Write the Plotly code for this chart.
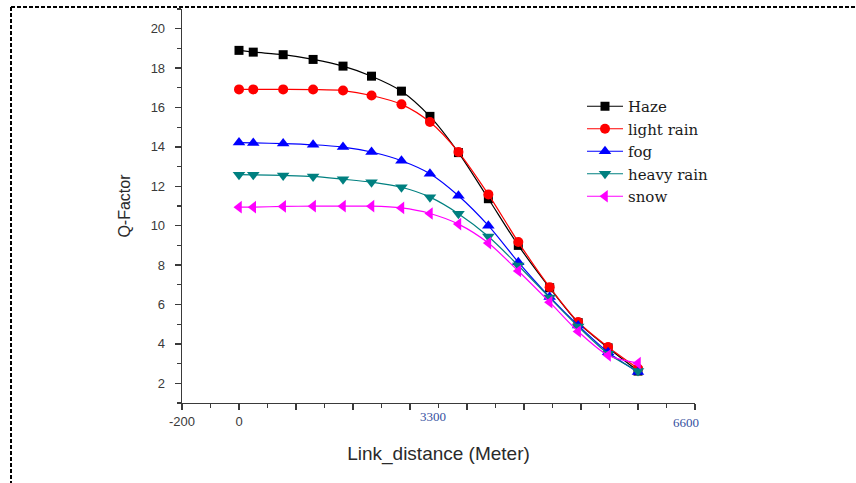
import plotly.graph_objects as go

# ---------------- data ----------------
link_distance = [0, 50, 155, 260, 365, 465, 570, 670, 770, 875, 980, 1090, 1190, 1295, 1400]
haze       = [18.90, 18.81, 18.68, 18.44, 18.10, 17.59, 16.83, 15.55, 13.71, 11.37, 9.00, 6.85, 5.08, 3.80, 2.62]
light_rain = [16.92, 16.92, 16.92, 16.91, 16.86, 16.61, 16.16, 15.26, 13.74, 11.59, 9.17, 6.88, 5.11, 3.84, 2.75]
fog        = [14.22, 14.20, 14.17, 14.11, 13.99, 13.74, 13.30, 12.64, 11.52, 10.00, 8.15, 6.38, 4.94, 3.58, 2.57]
heavy_rain = [12.59, 12.58, 12.55, 12.50, 12.36, 12.21, 11.95, 11.45, 10.61, 9.45, 7.98, 6.35, 4.88, 3.50, 2.62]
snow       = [10.94, 10.94, 10.98, 10.99, 10.99, 10.99, 10.90, 10.62, 10.08, 9.12, 7.70, 6.12, 4.63, 3.42, 3.02]

series_names = ["Haze", "light rain", "fog", "heavy rain", "snow"]
x_tick_values = [-200, 0, 200, 400, 600, 800, 1000, 1200, 1400, 1600]
x_tick_labels = ["-200", "0", "", "", "", "", "", "", "", ""]
y_tick_values = [2, 4, 6, 8, 10, 12, 14, 16, 18, 20]
extra_x_labels = ["3300", "6600"]

# ---------------- styling ----------------
W, H = 856, 483
L, R, T, B = 182, 161, 9, 80
X_RANGE = [-200, 1600]
Y_RANGE = [1, 21]
PW, PH = W - L - R, H - T - B

def px_to_paper_x(px):
    return (px - L) / PW

def px_to_paper_y(py):
    return (H - B - py) / PH

def px_to_data_x(px):
    return X_RANGE[0] + (px - L) / PW * (X_RANGE[1] - X_RANGE[0])

styles = [
    dict(color="#000000", symbol="square", size=9),
    dict(color="#ff0000", symbol="circle", size=10),
    dict(color="#0000ff", symbol="triangle-up", size=11),
    dict(color="#008080", symbol="triangle-down", size=11),
    dict(color="#ff00ff", symbol="triangle-left", size=11),
]
all_series = [haze, light_rain, fog, heavy_rain, snow]

fig = go.Figure()
for name, ys, st in zip(series_names, all_series, styles):
    fig.add_trace(go.Scatter(
        x=link_distance, y=ys, name=name, mode="lines+markers",
        line=dict(color=st["color"], width=1.2, shape="spline", smoothing=0.8),
        marker=dict(color=st["color"], symbol=st["symbol"], size=st["size"], line=dict(width=0)),
    ))

axis_color = "#3a3a3a"
tick_font = dict(family="Liberation Sans, Arial", size=13, color="#3a3a3a")

fig.update_layout(
    width=W, height=H,
    margin=dict(l=L, r=R, t=T, b=B, autoexpand=False),
    paper_bgcolor="white", plot_bgcolor="white",
    showlegend=True,
    hovermode=False,
    legend=dict(
        x=px_to_paper_x(582), y=px_to_paper_y(90), xanchor="left", yanchor="top",
        bgcolor="rgba(0,0,0,0)", borderwidth=0,
        font=dict(family="DejaVu Serif", size=15, color="#1a1a1a"),
        itemwidth=36, tracegroupgap=0,
    ),
    xaxis=dict(
        range=X_RANGE, showgrid=False, zeroline=False,
        showline=True, linecolor=axis_color, linewidth=1.3,
        ticks="outside", ticklen=6, tickwidth=1.3, tickcolor=axis_color,
        tickmode="array", tickvals=x_tick_values, ticktext=x_tick_labels,
        tickfont=tick_font,
        minor=dict(dtick=100, tick0=0, ticks="outside", ticklen=3.5, tickwidth=1.3, tickcolor=axis_color),
        title=dict(text="Link_distance (Meter)", standoff=18,
                   font=dict(family="Liberation Sans, Arial", size=19, color="#2a2a2a")),
    ),
    yaxis=dict(
        range=Y_RANGE, showgrid=False, zeroline=False,
        showline=True, linecolor=axis_color, linewidth=1.3,
        ticks="outside", ticklen=6, tickwidth=1.3, tickcolor=axis_color,
        tickmode="array", tickvals=y_tick_values, tickfont=tick_font,
        ticklabelstandoff=7,
        minor=dict(dtick=1, tick0=1, ticks="outside", ticklen=3.5, tickwidth=1.3, tickcolor=axis_color),
        title=dict(text="Q-Factor", standoff=16,
                   font=dict(family="Liberation Sans, Arial", size=16, color="#2a2a2a")),
    ),
)

# hand-placed distance labels (serif, bluish) as in the reference
extra_label_pos = [(433, 416), (686, 422)]
for txt, (px, py) in zip(extra_x_labels, extra_label_pos):
    fig.add_annotation(
        x=px_to_data_x(px), xref="x", y=px_to_paper_y(py), yref="paper",
        text=txt, showarrow=False, xanchor="center", yanchor="middle",
        font=dict(family="Liberation Serif, Times New Roman", size=13, color="#3550a0"),
    )

# dashed page frame (top and left)
fig.add_shape(type="line", xref="paper", yref="paper",
              x0=px_to_paper_x(11), x1=px_to_paper_x(W), y0=px_to_paper_y(7), y1=px_to_paper_y(7),
              line=dict(color="black", width=2, dash="4px,2px"))
fig.add_shape(type="line", xref="paper", yref="paper",
              x0=px_to_paper_x(11), x1=px_to_paper_x(11), y0=px_to_paper_y(7), y1=px_to_paper_y(H),
              line=dict(color="black", width=2, dash="4px,2px"))

# remove the default page margin so the figure sits at the window origin
fig.write_html("out.html", config={"displayModeBar": False, "staticPlot": True},
               post_script="document.body.style.margin='0px';")
